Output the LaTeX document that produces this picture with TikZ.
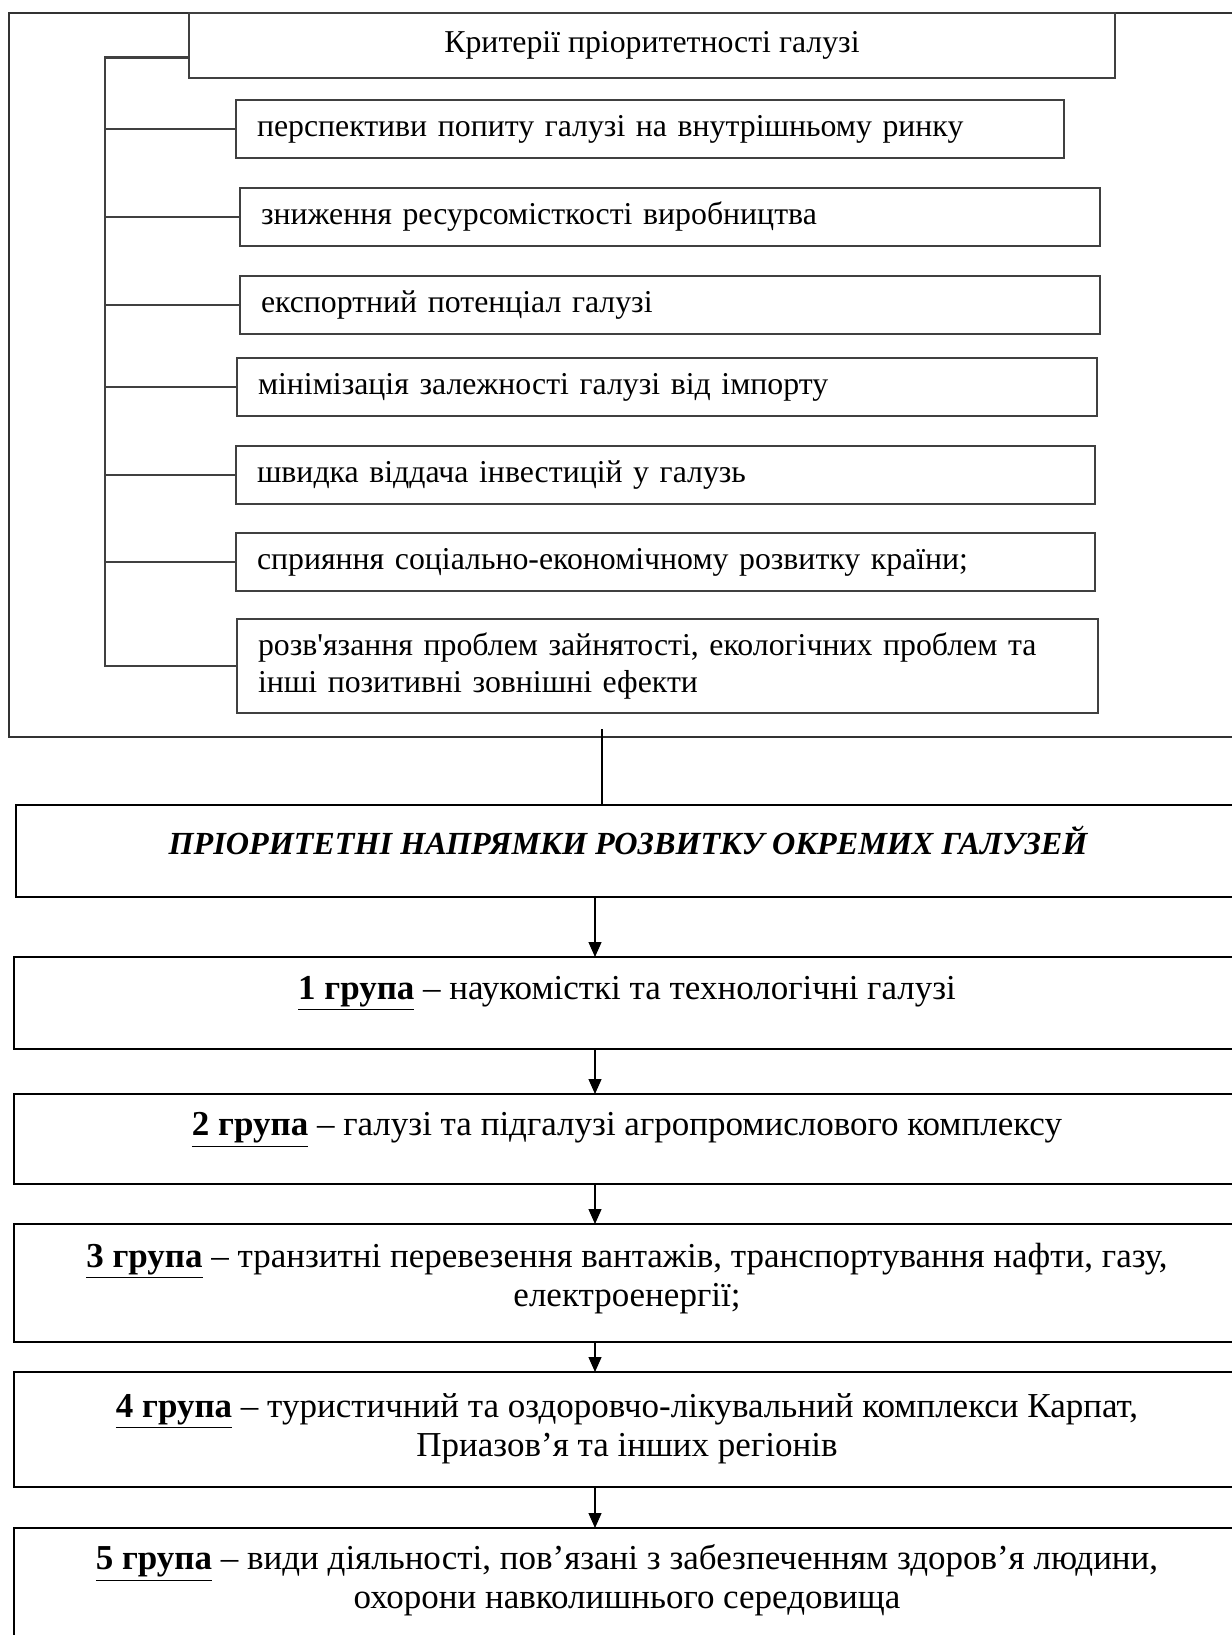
\documentclass[tikz,border=0pt]{standalone}
\usepackage{fontspec}
\setmainfont{Liberation Serif}
\usetikzlibrary{arrows.meta,positioning}
\newcommand{\grlabel}[1]{\underline{\textbf{#1 група}}}
\newcommand{\txtlift}[1]{\rule[-#1]{0pt}{0pt}}

\begin{document}
\begin{tikzpicture}[
        x=0.5pt, y=-0.5pt,
        every node/.style={font=\fontsize{15.9}{18.5}\selectfont},
        crit/.style={draw=black!75, line width=1.3pt, rectangle, anchor=north west, outer sep=0pt,
            inner xsep=10.5pt, inner ysep=2pt, minimum height=29pt, align=left},
        grp/.style={draw, line width=1pt, rectangle, anchor=north west, outer sep=0pt,
            inner ysep=1pt, minimum width=613pt, align=center, font=\fontsize{17.5}{19.5}\selectfont},
        link/.style={draw=black!75, line width=1.3pt},
        arr/.style={-{Triangle[length=7.5pt, width=6.5pt]}, line width=0.6pt}
    ]
    \useasboundingbox (0,0) rectangle (1232,1635);
    \clip (0,0) rectangle (1232,1635);

    % Outer frame
    \draw[black!80, line width=0.9pt] (9,13) rectangle (1240,737);

    % Title
    \node[crit, minimum width=463pt, minimum height=32.5pt, align=center] (T) at (189,13) {Критерії пріоритетності галузі};

    % Criteria
    \node[crit, text width=393pt, below right=11pt and 23.5pt of T.south west] (C1) {перспективи попиту галузі на внутрішньому ринку};
    \node[crit, text width=409pt, below right=15pt and 2pt of C1.south west] (C2) {зниження ресурсомісткості виробництва};
    \node[crit, text width=409pt, below right=15pt and 0pt of C2.south west] (C3) {експортний потенціал галузі};
    \node[crit, text width=409pt, below right=12pt and -1.5pt of C3.south west] (C4) {мінімізація залежності галузі від імпорту};
    \node[crit, text width=408.5pt, below right=15pt and -0.5pt of C4.south west] (C5) {швидка віддача інвестицій у галузь};
    \node[crit, text width=408.5pt, below right=14.5pt and 0pt of C5.south west] (C6) {сприяння соціально-економічному розвитку країни;};
    \node[crit, text width=409.5pt, minimum height=47pt, below right=14pt and 0.5pt of C6.south west] (C7) {розв\textquotesingle язання проблем зайнятості, екологічних проблем та\\ інші позитивні зовнішні ефекти};

    % Bracket
    \coordinate (br) at (105,0);
    \draw[link] ([yshift=-6pt]T.west) -| (C7.west -| br) -- (C7.west);
    \foreach \i in {1,...,6} \draw[link] (C\i.west -| br) -- (C\i.west);

    % Priority block
    \coordinate (J) at (602,729);
    \node[grp, minimum width=612pt, minimum height=46pt, font=\fontsize{16.1}{20}\selectfont\bfseries\itshape] (P) at (16,805) {ПРІОРИТЕТНІ НАПРЯМКИ РОЗВИТКУ ОКРЕМИХ ГАЛУЗЕЙ\txtlift{10.5pt}};
    \draw[line width=0.6pt] (J) -- (J |- P.north);

    % Groups
    \node[grp, minimum height=46pt, below right=30pt and -1pt of P.south west] (G1) {\grlabel{1} – наукомісткі та технологічні галузі\txtlift{15.5pt}};
    \node[grp, minimum height=45pt, below right=22.5pt and 0pt of G1.south west] (G2) {\grlabel{2} – галузі та підгалузі агропромислового комплексу\txtlift{15pt}};
    \node[grp, minimum height=59pt, below right=20pt and 0pt of G2.south west] (G3) {\grlabel{3} – транзитні перевезення вантажів, транспортування нафти, газу,\\ електроенергії;\txtlift{8.5pt}};
    \node[grp, minimum height=57.5pt, below right=15pt and 0pt of G3.south west] (G4) {\grlabel{4} – туристичний та оздоровчо-лікувальний комплекси Карпат,\\ Приазов’я та інших регіонів\txtlift{4.6pt}};
    \node[grp, minimum height=60pt, below right=20.5pt and 0pt of G4.south west] (G5) {\grlabel{5} – види діяльності, пов’язані з забезпеченням здоров’я людини,\\ охорони навколишнього середовища\txtlift{11.5pt}};

    % Arrows
    \coordinate (ax) at (595,0);
    \draw[arr] (P.south -| ax) -- (G1.north -| ax);
    \foreach \a/\b in {G1/G2, G2/G3, G3/G4, G4/G5} \draw[arr] (\a.south -| ax) -- (\b.north -| ax);
\end{tikzpicture}
\end{document}
